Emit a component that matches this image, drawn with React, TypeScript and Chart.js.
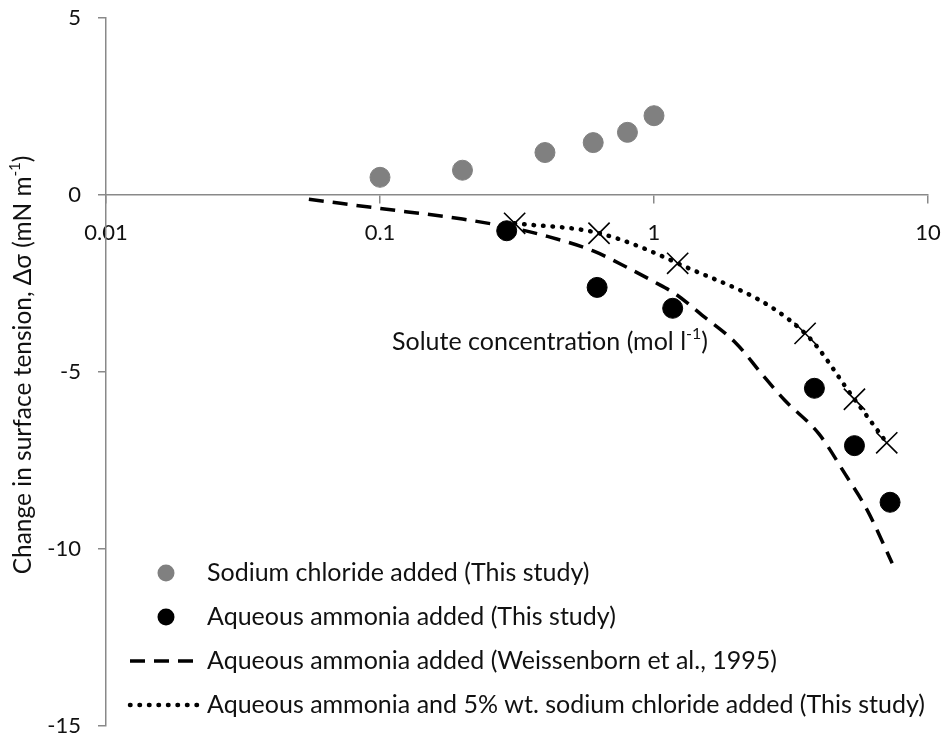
import { useEffect, useRef } from 'react';
import { Chart, registerables } from 'chart.js';

Chart.register(...registerables);

// ---- data ----
const xTickValues = [0.01, 0.1, 1, 10];
const xTickLabels = ['0.01', '0.1', '1', '10'];
const yTickValues = [5, 0, -5, -10, -15];

const seriesLabels = [
  'Sodium chloride added (This study)',
  'Aqueous ammonia added (This study)',
  'Aqueous ammonia added (Weissenborn et al., 1995)',
  'Aqueous ammonia and 5% wt. sodium chloride added (This study)',
];

const naclConc = [0.1, 0.2, 0.4, 0.6, 0.8, 1.0];
const naclDelta = [0.5, 0.7, 1.2, 1.48, 1.77, 2.24];

const nh3Conc = [0.29, 0.62, 1.17, 3.85, 5.39, 7.27];
const nh3Delta = [-1.01, -2.61, -3.2, -5.46, -7.08, -8.68];

const weissConc = [0.055, 0.1, 0.2, 0.3, 0.4, 0.6, 0.8, 1.0, 1.2, 1.5, 2.0, 2.5, 3.0, 4.0, 5.0, 6.0, 7.4];
const weissDelta = [-0.12, -0.38, -0.68, -0.92, -1.15, -1.58, -2.05, -2.45, -2.8, -3.4, -4.2, -5.1, -5.8, -6.75, -7.9, -8.9, -10.4];

const mixConc = [0.31, 0.63, 1.22, 3.56, 5.39, 7.07];
const mixDelta = [-0.8, -1.08, -1.93, -3.91, -5.77, -7.0];

const xTitle = [{ t: 'Solute concentration (mol l' }, { t: '-1', sup: true }, { t: ')' }];
const yTitle = [{ t: 'Change in surface tension, Δσ (mN m' }, { t: '-1', sup: true }, { t: ')' }];

const FONT = 'Lato, "Open Sans", sans-serif';
const TEXT = '#111111';
const AXIS = '#898989';
const TITLE_SIZE = 25;

const pts = (xs: number[], ys: number[]) => xs.map((x, i) => ({ x, y: ys[i] }));

type Part = { t: string; sup?: boolean };

function drawRich(ctx: CanvasRenderingContext2D, parts: Part[], cx: number, cy: number, size: number) {
  const supSize = Math.round(size * 0.62);
  let total = 0;
  const widths = parts.map((p) => {
    ctx.font = `${p.sup ? supSize : size}px ${FONT}`;
    const w = ctx.measureText(p.t).width;
    total += w;
    return w;
  });
  let x = cx - total / 2;
  ctx.textBaseline = 'middle';
  ctx.textAlign = 'left';
  parts.forEach((p, i) => {
    ctx.font = `${p.sup ? supSize : size}px ${FONT}`;
    ctx.fillText(p.t, x, p.sup ? cy - size * 0.32 : cy);
    x += widths[i];
  });
}

const zeroPadding = () => ({ left: 0, top: 0, right: 0, bottom: 0 });

const titlesAndLegend = {
  id: 'titlesAndLegend',
  afterDraw(chart: any) {
    const ctx: CanvasRenderingContext2D = chart.ctx;
    ctx.save();
    ctx.fillStyle = TEXT;
    drawRich(ctx, xTitle, 550, 342, TITLE_SIZE);
    ctx.save();
    ctx.translate(23, 365);
    ctx.rotate(-Math.PI / 2);
    drawRich(ctx, yTitle, 0, 0, 24.5);
    ctx.restore();

    // legend
    const rows = [573, 617, 661, 705];
    chart.data.datasets.forEach((ds: any, i: number) => {
      const y = rows[i];
      ctx.save();
      if (ds.showLine) {
        ctx.strokeStyle = ds.borderColor;
        ctx.lineWidth = ds.borderWidth;
        ctx.lineCap = ds.borderCapStyle || 'butt';
        ctx.setLineDash(ds.borderDash || []);
        ctx.beginPath();
        ctx.moveTo(130, y);
        ctx.lineTo(197, y);
        ctx.stroke();
      } else {
        ctx.fillStyle = ds.backgroundColor;
        ctx.beginPath();
        ctx.arc(166, y, 8.5, 0, Math.PI * 2);
        ctx.fill();
      }
      ctx.restore();
      ctx.fillStyle = TEXT;
      ctx.font = `${TITLE_SIZE}px ${FONT}`;
      ctx.textAlign = 'left';
      ctx.textBaseline = 'middle';
      ctx.fillText(ds.label, 207, y);
    });
    ctx.restore();
  },
};

export default function App() {
  const ref = useRef<HTMLCanvasElement | null>(null);

  useEffect(() => {
    if (!ref.current) return;
    const chart = new Chart(ref.current, {
      type: 'scatter',
      data: {
        datasets: [
          {
            label: seriesLabels[0],
            data: pts(naclConc, naclDelta),
            backgroundColor: '#808080',
            borderColor: '#808080',
            pointRadius: 10,
            pointHoverRadius: 10,
            showLine: false,
            order: 1,
          },
          {
            label: seriesLabels[1],
            data: pts(nh3Conc, nh3Delta),
            backgroundColor: '#000000',
            borderColor: '#000000',
            pointRadius: 10,
            pointHoverRadius: 10,
            showLine: false,
            order: 2,
          },
          {
            label: seriesLabels[2],
            data: pts(weissConc, weissDelta),
            borderColor: '#000000',
            backgroundColor: '#000000',
            borderWidth: 3.5,
            borderDash: [15, 9],
            borderCapStyle: 'butt',
            pointRadius: 0,
            showLine: true,
            cubicInterpolationMode: 'monotone',
            order: 4,
          },
          {
            label: seriesLabels[3],
            data: pts(mixConc, mixDelta),
            borderColor: '#000000',
            backgroundColor: '#000000',
            borderWidth: 4.5,
            borderDash: [0.5, 9],
            borderCapStyle: 'round',
            pointStyle: 'crossRot',
            pointRadius: 15,
            pointHoverRadius: 15,
            pointBorderWidth: 1.6,
            pointBorderColor: '#000000',
            showLine: true,
            cubicInterpolationMode: 'monotone',
            order: 3,
          },
        ] as any,
      },
      options: {
        animation: false,
        responsive: false,
        layout: { autoPadding: false, padding: { left: 0, top: 18, right: 21, bottom: 12 } } as any,
        plugins: { legend: { display: false }, tooltip: { enabled: false } },
        scales: {
          x: {
            type: 'logarithmic',
            min: 0.01,
            max: 10,
            position: { y: 0 } as any,
            afterBuildTicks: (scale: any) => {
              scale.ticks = xTickValues.map((v) => ({ value: v }));
            },
            afterFit: (scale: any) => {
              scale.paddingLeft = 0;
              scale.paddingRight = 0;
              scale.paddingTop = 0;
              scale.paddingBottom = 0;
              scale.getPadding = zeroPadding;
            },
            ticks: {
              autoSkip: false,
              maxRotation: 0,
              padding: 17,
              color: TEXT,
              font: { family: FONT, size: 22 },
              callback: (v: any) => {
                const i = xTickValues.indexOf(Number(v));
                return i >= 0 ? xTickLabels[i] : '';
              },
            },
            grid: { drawOnChartArea: false, drawTicks: true, tickLength: 8, color: AXIS, lineWidth: 1.5 },
            border: { display: true, color: AXIS, width: 1.5 },
          },
          y: {
            type: 'linear',
            min: -15,
            max: 5,
            afterBuildTicks: (scale: any) => {
              scale.ticks = yTickValues.map((v) => ({ value: v }));
            },
            afterFit: (scale: any) => {
              scale.width = 106;
              scale.paddingTop = 0;
              scale.paddingBottom = 0;
              scale.paddingLeft = 0;
              scale.paddingRight = 0;
              scale.getPadding = zeroPadding;
            },
            ticks: {
              padding: 17,
              color: TEXT,
              font: { family: FONT, size: 22 },
            },
            grid: { drawOnChartArea: false, drawTicks: true, tickLength: 8, color: AXIS, lineWidth: 1.5 },
            border: { display: true, color: AXIS, width: 1.5 },
          },
        },
      },
      plugins: [titlesAndLegend],
    });
    return () => chart.destroy();
  }, []);

  return (
    <div style={{ position: 'absolute', left: 0, top: 0, width: 949, height: 738, background: '#fff' }}>
      <canvas ref={ref} width={949} height={738} style={{ width: 949, height: 738, display: 'block' }} />
    </div>
  );
}
